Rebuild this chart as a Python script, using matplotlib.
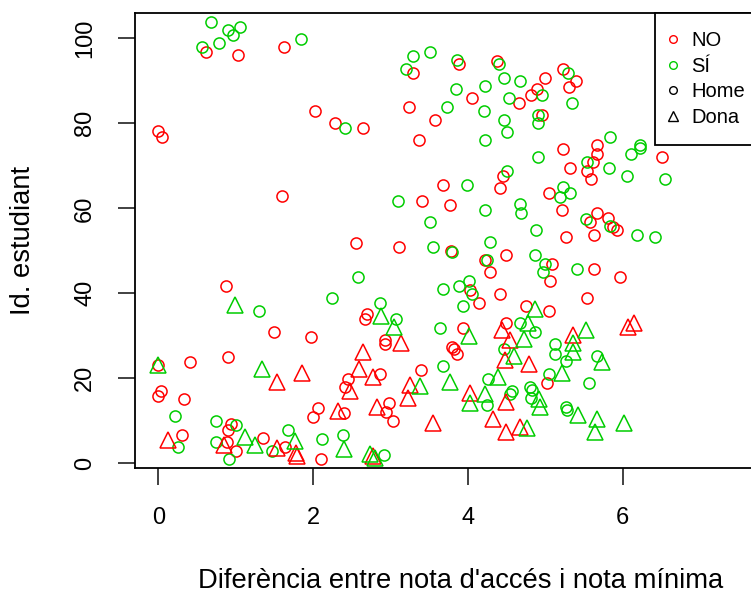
import matplotlib
matplotlib.use("Agg")
import matplotlib.pyplot as plt
from matplotlib.lines import Line2D

plt.rcParams['font.family'] = ['Liberation Sans', 'DejaVu Sans']

# NO, Home (red circles)
no_home_x = [0.62, 1.03, 1.62, 0.00, 0.05, 2.02, 2.28, 2.65, 1.60, 2.56,
             3.29, 3.88, 4.38, 3.24, 3.57, 3.37, 4.05, 4.66, 4.99, 4.89,
             4.81, 5.23, 5.40, 5.30, 4.95, 5.23, 5.66, 5.67, 5.61, 5.32,
             5.54, 5.59, 6.50, 4.45, 3.68, 4.41, 3.40, 3.77, 5.04, 5.21,
             5.67, 5.81, 5.58, 5.87, 5.93, 5.63, 5.26, 0.88, 1.49, 1.97,
             0.41, 0.90, 2.69, 2.67, 2.93, 2.93, 2.87, 2.45, 2.41, 0.03,
             0.00, 0.33, 2.06, 2.00, 2.40, 2.98, 0.31, 0.94, 0.90, 0.89,
             1.01, 1.35, 1.64, 2.10, 0.00, 3.11, 3.78, 4.22, 4.49, 4.28,
             5.08, 5.06, 5.63, 5.96, 5.54, 4.42, 4.14, 4.03, 4.75, 5.04,
             3.94, 4.49, 3.79, 3.82, 3.86, 3.39, 5.02, 2.94, 3.03]
no_home_y = [96.7, 96.0, 98.0, 78.2, 76.9, 82.8, 80.1, 78.8, 62.9, 51.8,
             91.9, 94.0, 94.7, 83.9, 80.8, 76.0, 85.9, 84.7, 90.7, 88.1,
             86.7, 92.9, 90.0, 88.6, 82.0, 74.0, 74.9, 72.8, 70.8, 69.6,
             68.9, 66.8, 72.1, 67.7, 65.6, 64.9, 61.7, 60.9, 63.7, 59.7,
             59.0, 57.8, 56.9, 55.7, 54.9, 53.7, 53.2, 41.7, 31.0, 29.8,
             23.8, 25.0, 35.1, 33.9, 29.0, 28.0, 21.0, 19.9, 17.9, 17.1,
             15.9, 15.1, 13.1, 11.0, 11.9, 14.1, 6.7, 9.2, 7.8, 5.0,
             2.8, 6.0, 3.9, 0.9, 23.1, 51.0, 50.0, 47.8, 49.0, 44.9,
             47.0, 42.9, 45.7, 43.8, 38.9, 39.8, 37.8, 40.8, 36.9, 35.8,
             31.9, 33.1, 27.3, 26.8, 25.7, 21.9, 19.0, 12.1, 9.9]

# SÍ, Home (green circles)
si_home_x = [0.68, 0.90, 1.06, 0.97, 0.57, 0.79, 1.84, 2.41, 3.29, 3.51,
             3.20, 3.86, 4.40, 4.47, 4.67, 3.84, 4.22, 4.53, 3.73, 4.21,
             4.47, 4.51, 4.22, 4.95, 4.91, 4.91, 5.29, 5.34, 4.91, 5.83,
             6.11, 6.22, 6.22, 5.54, 5.82, 6.06, 6.55, 4.51, 3.99, 5.23,
             5.19, 5.32, 3.09, 4.22, 4.67, 4.69, 3.51, 4.88, 5.52, 5.84,
             6.18, 6.42, 4.29, 2.58, 2.24, 1.30, 2.87, 0.22, 0.26, 0.75,
             0.75, 0.92, 1.00, 1.67, 2.12, 2.39, 2.92, 1.47, 3.55, 3.80,
             4.25, 4.86, 4.99, 4.97, 5.41, 3.68, 3.88, 4.01, 4.05, 3.94,
             3.64, 4.67, 4.87, 3.07, 5.12, 5.12, 5.27, 4.47, 3.68, 5.04,
             5.67, 5.56, 4.26, 4.57, 4.54, 4.80, 4.83, 4.82, 4.25, 5.26,
             5.28]
si_home_y = [103.8, 102.0, 102.7, 100.8, 98.0, 98.8, 99.9, 78.8, 95.9, 96.7,
             92.7, 94.9, 93.9, 90.7, 90.0, 88.0, 88.8, 85.9, 83.9, 82.9,
             80.9, 78.0, 76.1, 86.7, 82.0, 80.0, 91.9, 84.7, 72.1, 76.9,
             72.8, 74.9, 74.2, 70.8, 69.6, 67.7, 66.8, 68.8, 65.6, 65.1,
             62.7, 63.7, 61.7, 59.7, 61.0, 58.8, 56.9, 54.9, 57.6, 55.8,
             53.7, 53.2, 52.0, 43.8, 38.9, 35.8, 37.8, 11.1, 3.8, 9.9,
             4.9, 0.9, 9.0, 7.8, 5.8, 6.7, 2.0, 2.8, 51.0, 49.7,
             47.8, 49.0, 47.0, 44.9, 45.7, 40.9, 41.8, 42.9, 39.8, 37.0,
             31.8, 32.9, 31.0, 33.9, 28.0, 25.7, 24.1, 27.0, 23.0, 21.0,
             25.2, 19.0, 19.9, 17.1, 16.3, 18.0, 17.2, 15.4, 13.7, 13.3,
             12.5]

# NO, Dona (red triangles)
no_dona_x = [0.12, 1.54, 1.86, 2.65, 2.59, 2.78, 2.48, 2.32, 2.83, 0.85,
             1.78, 1.79, 1.53, 2.78, 3.13, 4.44, 4.54, 4.48, 4.79, 5.36,
             6.07, 6.14, 3.25, 3.23, 4.03, 4.49, 3.55, 4.32, 4.49, 4.67]
no_dona_y = [5.5, 19.2, 21.2, 26.3, 22.3, 20.2, 17.1, 12.3, 13.3, 4.3,
             2.5, 1.6, 3.5, 1.6, 28.2, 31.4, 29.0, 24.3, 23.3, 30.2,
             32.1, 33.1, 18.4, 15.3, 16.5, 14.5, 9.4, 10.4, 7.4, 8.5]

# SÍ, Dona (green triangles)
si_dona_x = [0.99, 0.00, 1.34, 2.88, 3.05, 1.12, 1.25, 1.76, 2.40, 2.73,
             2.80, 4.01, 4.86, 4.78, 4.72, 4.60, 5.52, 5.35, 5.35, 5.73,
             5.22, 4.39, 3.77, 3.38, 4.22, 4.02, 4.92, 4.93, 5.42, 5.66,
             5.64, 6.01, 4.76]
si_dona_y = [37.2, 23.1, 22.3, 34.6, 32.1, 6.1, 4.3, 5.3, 3.3, 2.2,
             1.2, 30.0, 36.3, 33.1, 29.2, 25.2, 31.4, 28.2, 26.3, 23.9,
             21.2, 20.4, 19.2, 18.2, 16.3, 14.1, 15.1, 13.3, 11.4, 10.4,
             7.4, 9.4, 8.2]

x_ticks = [0, 2, 4, 6]
y_ticks = [0, 20, 40, 60, 80, 100]
legend_labels = ["NO", "SÍ", "Home", "Dona"]

red = "#FF0000"
green = "#00CD00"

W, H = 751, 596
fig = plt.figure(figsize=(W / 100, H / 100), dpi=100)
left, right, top, bottom = 135, 787, 13.3, 468.3
ax = fig.add_axes([left / W, 1 - bottom / H, (right - left) / W, (bottom - top) / H])

kw = dict(ls="none", mfc="none", mew=1.1)
ax.plot(no_home_x, no_home_y, marker="o", ms=8, mec=red, **kw)
ax.plot(si_home_x, si_home_y, marker="o", ms=8, mec=green, **kw)
ax.plot(no_dona_x, no_dona_y, marker="^", ms=11, mec=red, **kw)
ax.plot(si_dona_x, si_dona_y, marker="^", ms=11, mec=green, **kw)

ax.set_xlim(-0.30, 8.12)
ax.set_ylim(-1.18, 105.9)
ax.set_xticks(x_ticks)
ax.set_yticks(y_ticks)
for s in ax.spines.values():
    s.set_linewidth(1.3)
ax.tick_params(axis="both", length=12, width=1.3, labelsize=17, color="#333333")
ax.tick_params(axis="x", pad=16)
ax.tick_params(axis="y", pad=16, labelrotation=90)
for lab in ax.get_yticklabels():
    lab.set_va("center")

ax.set_xlabel("Diferència entre nota d'accés i nota mínima", fontsize=19.7)
ax.set_ylabel("Id. estudiant", fontsize=19.7)
ax.xaxis.set_label_coords(0.5, -0.2477)
ax.xaxis.label.set_va("center")
ax.yaxis.set_label_coords(-0.1718, 0.5)
ax.yaxis.label.set_va("center")

handles = [
    Line2D([], [], marker="o", ls="none", mfc="none", mec=red, ms=5.5, mew=1),
    Line2D([], [], marker="o", ls="none", mfc="none", mec=green, ms=5.5, mew=1),
    Line2D([], [], marker="o", ls="none", mfc="none", mec="black", ms=5.5, mew=1),
    Line2D([], [], marker="^", ls="none", mfc="none", mec="black", ms=7.5, mew=1),
]
leg = ax.legend(handles, legend_labels, loc="upper left",
                bbox_to_anchor=(655 / W, 1 - 13.3 / H), bbox_transform=fig.transFigure,
                fontsize=14.5, frameon=True, fancybox=False, framealpha=1,
                edgecolor="black", borderpad=0.9, handlelength=0.0,
                handletextpad=0.9, labelspacing=0.32, borderaxespad=0)
leg.get_frame().set_linewidth(1.3)

fig.savefig("out.png", dpi=100)
